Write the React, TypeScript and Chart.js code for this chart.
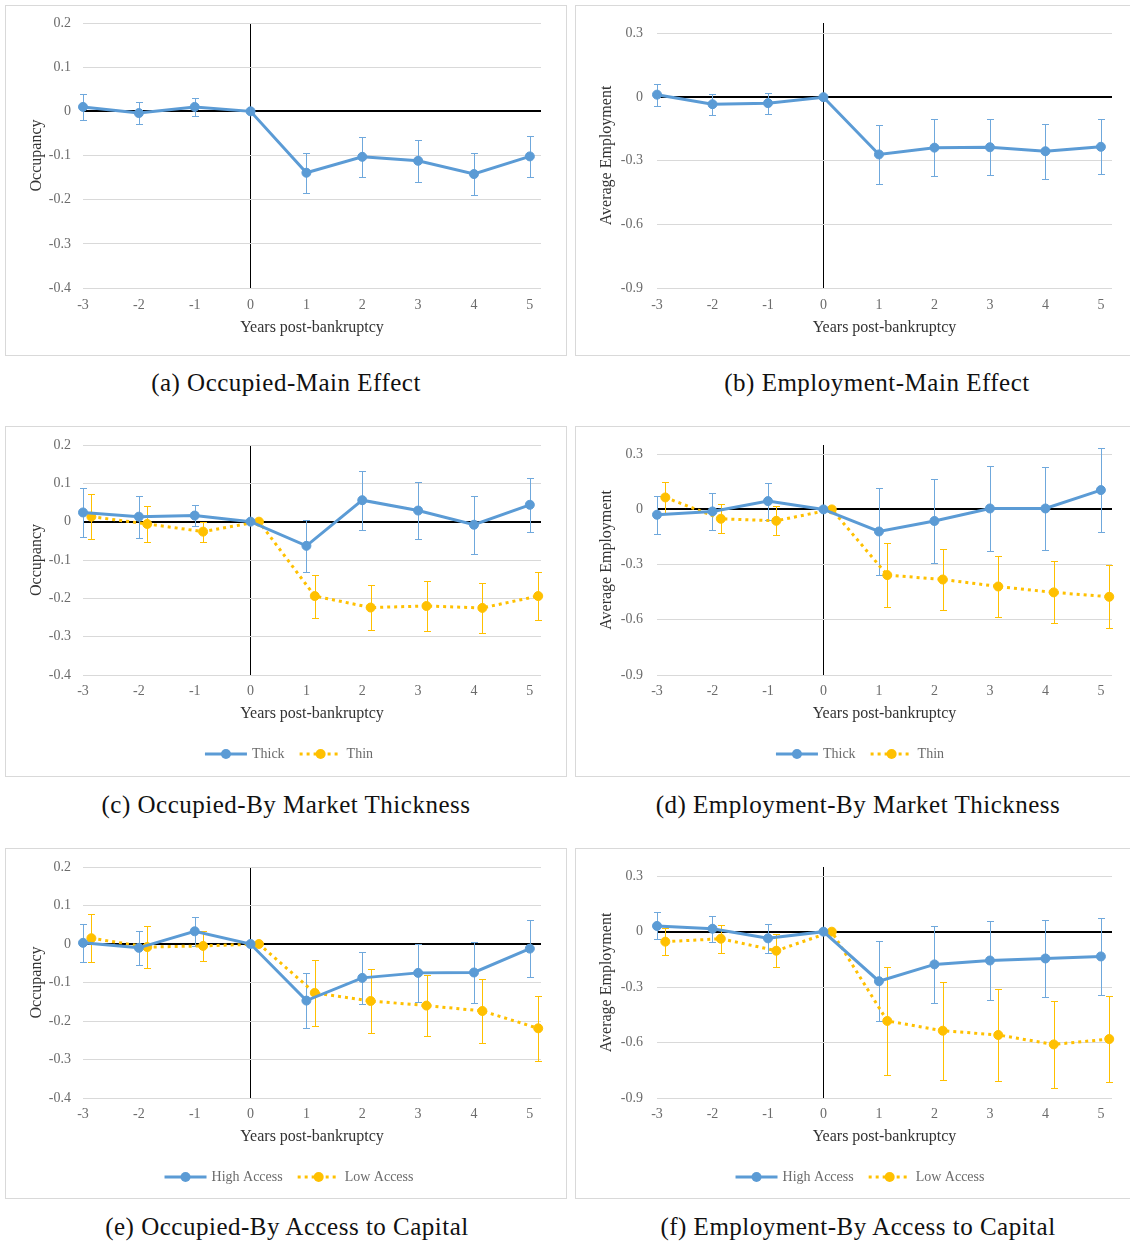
import React, { useEffect, useRef } from "react";
import { Chart, registerables } from "chart.js";

Chart.register(...registerables);

// ---------- data ----------
const years = [-3, -2, -1, 0, 1, 2, 3, 4, 5];
const xTickLabels = ["-3", "-2", "-1", "0", "1", "2", "3", "4", "5"];

const occTicks = [0.2, 0.1, 0, -0.1, -0.2, -0.3, -0.4];
const occTickLabels = ["0.2", "0.1", "0", "-0.1", "-0.2", "-0.3", "-0.4"];
const empTicks = [0.3, 0, -0.3, -0.6, -0.9];
const empTickLabels = ["0.3", "0", "-0.3", "-0.6", "-0.9"];

// (a) Occupied - main effect
const occMain = [0.01, -0.004, 0.01, 0, -0.139, -0.103, -0.112, -0.142, -0.102];
const occMainErr = [0.03, 0.025, 0.02, 0, 0.045, 0.045, 0.047, 0.048, 0.047];

// (b) Employment - main effect
const empMain = [0.012, -0.033, -0.028, 0, -0.27, -0.238, -0.236, -0.255, -0.234];
const empMainErr = [0.052, 0.05, 0.05, 0, 0.14, 0.136, 0.133, 0.13, 0.13];

// (c) Occupied - by market thickness
const occThick = [0.024, 0.013, 0.016, 0, -0.063, 0.056, 0.029, -0.008, 0.044];
const occThickErr = [0.063, 0.055, 0.027, 0, 0.068, 0.077, 0.075, 0.076, 0.071];
const occThin = [0.013, -0.006, -0.026, 0, -0.194, -0.224, -0.22, -0.225, -0.194];
const occThinErr = [0.058, 0.047, 0.026, 0, 0.056, 0.058, 0.066, 0.066, 0.063];

// (d) Employment - by market thickness
const empThick = [-0.029, -0.011, 0.045, 0, -0.12, -0.063, 0.005, 0.005, 0.105];
const empThickErr = [0.102, 0.1, 0.1, 0, 0.235, 0.23, 0.231, 0.228, 0.23];
const empThin = [0.065, -0.051, -0.062, 0, -0.357, -0.381, -0.419, -0.451, -0.475];
const empThinErr = [0.083, 0.078, 0.078, 0, 0.172, 0.168, 0.168, 0.168, 0.171];

// (e) Occupied - by access to capital
const occHigh = [0.003, -0.01, 0.033, 0, -0.147, -0.088, -0.075, -0.074, -0.012];
const occHighErr = [0.049, 0.044, 0.038, 0, 0.072, 0.067, 0.076, 0.08, 0.074];
const occLow = [0.015, -0.008, -0.005, 0, -0.127, -0.148, -0.16, -0.174, -0.219];
const occLowErr = [0.063, 0.055, 0.04, 0, 0.085, 0.083, 0.08, 0.083, 0.085];

// (f) Employment - by access to capital
const empHigh = [0.031, 0.016, -0.036, 0, -0.268, -0.177, -0.156, -0.145, -0.134];
const empHighErr = [0.073, 0.07, 0.078, 0, 0.215, 0.21, 0.212, 0.21, 0.21];
const empLow = [-0.054, -0.038, -0.103, 0, -0.483, -0.536, -0.559, -0.61, -0.581];
const empLowErr = [0.072, 0.075, 0.09, 0, 0.29, 0.266, 0.248, 0.236, 0.233];

// ---------- styles ----------
const FONT = "'Liberation Serif', 'Times New Roman', serif";
const BLUE = "#5B9BD5";
const BLUE_ERR = "#6FA8DC";
const GOLD = "#FFC000";
const TICK_COLOR = "#6b6b6b";
const TITLE_COLOR = "#333333";
const GRID_COLOR = "#d9d9d9";
const SECOND_OFFSET = 0.15;

type SeriesSpec = {
  label: string;
  values: number[];
  errors: number[];
  color: string;
  errColor: string;
  dotted: boolean;
  offset: number;
};

type PanelSpec = {
  key: string;
  boxLeft: number;
  boxTop: number;
  boxW: number;
  boxH: number;
  canvasW: number;
  canvasH: number;
  plotLeft: number;
  plotRight: number;
  plotTop: number;
  plotBottom: number;
  yMin: number;
  yMax: number;
  yTicks: number[];
  yTickLabels: string[];
  yTitle: string;
  yLabelPad: number;
  xLabelPad: number;
  xTitlePad: number;
  legend: boolean;
  legendY: number;
  legendX: number;
  series: SeriesSpec[];
  caption: string;
  captionX: number;
  captionY: number;
};

const blueSeries = (label: string, values: number[], errors: number[]): SeriesSpec => ({
  label, values, errors, color: BLUE, errColor: BLUE_ERR, dotted: false, offset: 0,
});
const goldSeries = (label: string, values: number[], errors: number[]): SeriesSpec => ({
  label, values, errors, color: GOLD, errColor: GOLD, dotted: true, offset: SECOND_OFFSET,
});

const LEFT = { boxLeft: 5, boxW: 562, canvasW: 560, plotLeft: 77, plotRight: 535, yLabelPad: 12, legendX: 283 };
const RIGHT = { boxLeft: 575, boxW: 560, canvasW: 558, plotLeft: 81, plotRight: 536, yLabelPad: 14, legendX: 284 };
const ROW1 = { boxTop: 5, boxH: 351, canvasH: 349, plotTop: 17, plotBottom: 282, xLabelPad: 9, xTitlePad: 18, legend: false, legendY: 0 };
const ROW2 = { boxTop: 426, boxH: 351, canvasH: 349, plotTop: 18, plotBottom: 248, xLabelPad: 8, xTitlePad: 53, legend: true, legendY: 327 };
const ROW3 = { boxTop: 848, boxH: 351, canvasH: 349, plotTop: 18, plotBottom: 249, xLabelPad: 8, xTitlePad: 52, legend: true, legendY: 328 };

const OCC = { yMin: -0.4, yMax: 0.2, yTicks: occTicks, yTickLabels: occTickLabels, yTitle: "Occupancy" };
const EMP = { yMin: -0.9, yMax: 0.35, yTicks: empTicks, yTickLabels: empTickLabels, yTitle: "Average Employment" };

const panels: PanelSpec[] = [
  { key: "a", ...LEFT, ...ROW1, ...OCC, series: [blueSeries("Occupancy", occMain, occMainErr)],
    caption: "(a) Occupied-Main Effect", captionX: 286, captionY: 383 },
  { key: "b", ...RIGHT, ...ROW1, ...EMP, series: [blueSeries("Average Employment", empMain, empMainErr)],
    caption: "(b) Employment-Main Effect", captionX: 877, captionY: 383 },
  { key: "c", ...LEFT, ...ROW2, ...OCC,
    series: [blueSeries("Thick", occThick, occThickErr), goldSeries("Thin", occThin, occThinErr)],
    caption: "(c) Occupied-By Market Thickness", captionX: 286, captionY: 805 },
  { key: "d", ...RIGHT, ...ROW2, ...EMP,
    series: [blueSeries("Thick", empThick, empThickErr), goldSeries("Thin", empThin, empThinErr)],
    caption: "(d) Employment-By Market Thickness", captionX: 858, captionY: 805 },
  { key: "e", ...LEFT, ...ROW3, ...OCC,
    series: [blueSeries("High Access", occHigh, occHighErr), goldSeries("Low Access", occLow, occLowErr)],
    caption: "(e) Occupied-By Access to Capital", captionX: 287, captionY: 1227 },
  { key: "f", ...RIGHT, ...ROW3, ...EMP,
    series: [blueSeries("High Access", empHigh, empHighErr), goldSeries("Low Access", empLow, empLowErr)],
    caption: "(f) Employment-By Access to Capital", captionX: 858, captionY: 1227 },
];

// ---------- plugins ----------
const errorBarPlugin = {
  id: "errorBars",
  beforeDatasetsDraw(chart: any) {
    const ctx = chart.ctx;
    const yScale = chart.scales.y;
    chart.data.datasets.forEach((ds: any, i: number) => {
      const meta = chart.getDatasetMeta(i);
      const errs: number[] = ds.errors || [];
      ctx.save();
      ctx.strokeStyle = ds.errorColor;
      ctx.lineWidth = 1;
      meta.data.forEach((pt: any, j: number) => {
        const e = errs[j];
        if (!e) return;
        const v = ds.data[j].y;
        const x = Math.round(pt.x) + 0.5;
        const y1 = Math.round(yScale.getPixelForValue(v + e)) + 0.5;
        const y2 = Math.round(yScale.getPixelForValue(v - e)) + 0.5;
        ctx.beginPath();
        ctx.moveTo(x, y1);
        ctx.lineTo(x, y2);
        ctx.moveTo(x - 3.5, y1);
        ctx.lineTo(x + 3.5, y1);
        ctx.moveTo(x - 3.5, y2);
        ctx.lineTo(x + 3.5, y2);
        ctx.stroke();
      });
      ctx.restore();
    });
  },
};

const lineLegendPlugin = {
  id: "lineLegend",
  afterDraw(chart: any, _args: any, opts: any) {
    if (!opts || !opts.display) return;
    const ctx = chart.ctx;
    ctx.save();
    ctx.font = `14px ${FONT}`;
    const sampleW = 42;
    const gapText = 5;
    const gapItem = 15;
    const items = chart.data.datasets.map((ds: any) => ({ ds, tw: ctx.measureText(ds.label).width }));
    const total =
      items.reduce((s: number, it: any) => s + sampleW + gapText + it.tw, 0) + gapItem * (items.length - 1);
    let x = opts.centerX - total / 2;
    const y = opts.y;
    for (const it of items) {
      ctx.strokeStyle = it.ds.borderColor;
      ctx.lineWidth = 3;
      ctx.setLineDash(it.ds.borderDash || []);
      ctx.beginPath();
      ctx.moveTo(x, y);
      ctx.lineTo(x + sampleW, y);
      ctx.stroke();
      ctx.setLineDash([]);
      ctx.fillStyle = it.ds.pointBackgroundColor;
      ctx.beginPath();
      ctx.arc(x + sampleW / 2, y, 5, 0, Math.PI * 2);
      ctx.fill();
      ctx.fillStyle = TICK_COLOR;
      ctx.textAlign = "left";
      ctx.textBaseline = "middle";
      ctx.fillText(it.ds.label, x + sampleW + gapText, y);
      x += sampleW + gapText + it.tw + gapItem;
    }
    ctx.restore();
  },
};

// ---------- components ----------
function Panel({ spec }: { spec: PanelSpec }) {
  const ref = useRef<HTMLCanvasElement | null>(null);

  useEffect(() => {
    if (!ref.current) return;
    const p = spec;
    const datasets = p.series.map((s) => ({
      label: s.label,
      data: years.map((yr, i) => ({ x: yr + s.offset, y: s.values[i] })),
      errors: s.errors,
      errorColor: s.errColor,
      borderColor: s.color,
      backgroundColor: s.color,
      borderWidth: 3,
      borderDash: s.dotted ? [3, 4] : [],
      pointRadius: 4.5,
      pointBorderWidth: 1,
      pointBackgroundColor: s.color,
      pointBorderColor: s.color,
      tension: 0,
      clip: false,
    }));

    const chart = new Chart(ref.current, {
      type: "line",
      data: { datasets } as any,
      plugins: [errorBarPlugin, lineLegendPlugin] as any,
      options: {
        responsive: false,
        animation: false,
        events: [],
        devicePixelRatio: 1,
        layout: {
          padding: { left: 0, top: p.plotTop, right: p.canvasW - p.plotRight, bottom: 0 },
        },
        plugins: {
          legend: { display: false },
          tooltip: { enabled: false },
          lineLegend: { display: p.legend, centerX: p.legendX, y: p.legendY },
        } as any,
        scales: {
          x: {
            type: "linear",
            min: -3,
            max: 5.2,
            afterBuildTicks: (ax: any) => {
              ax.ticks = years.map((v) => ({ value: v }));
            },
            afterFit: (ax: any) => {
              ax.height = p.canvasH - p.plotBottom;
              ax.paddingLeft = 0;
              ax.paddingRight = 0;
            },
            ticks: {
              autoSkip: false,
              maxRotation: 0,
              padding: p.xLabelPad,
              color: TICK_COLOR,
              font: { family: FONT, size: 14 },
              callback: (v: any) => {
                const idx = years.indexOf(Number(v));
                return idx >= 0 ? xTickLabels[idx] : "";
              },
            },
            grid: {
              drawTicks: false,
              lineWidth: 1,
              color: (c: any) => (c.tick && c.tick.value === 0 ? "#000000" : "rgba(0,0,0,0)"),
            },
            border: { display: false },
            title: {
              display: true,
              text: "Years post-bankruptcy",
              color: TITLE_COLOR,
              font: { family: FONT, size: 16 },
              padding: { top: 0, bottom: p.xTitlePad },
            },
          },
          y: {
            type: "linear",
            min: p.yMin,
            max: p.yMax,
            afterBuildTicks: (ax: any) => {
              ax.ticks = p.yTicks.map((v) => ({ value: v }));
            },
            afterFit: (ax: any) => {
              ax.width = p.plotLeft;
              ax.paddingTop = 0;
              ax.paddingBottom = 0;
            },
            ticks: {
              padding: p.yLabelPad,
              color: TICK_COLOR,
              font: { family: FONT, size: 14 },
              callback: (v: any) => {
                const idx = p.yTicks.indexOf(Number(v));
                return idx >= 0 ? p.yTickLabels[idx] : "";
              },
            },
            grid: {
              drawTicks: false,
              color: (c: any) => (c.tick && c.tick.value === 0 ? "#000000" : GRID_COLOR),
              lineWidth: (c: any) => (c.tick && c.tick.value === 0 ? 2 : 1),
            },
            border: { display: false },
            title: {
              display: true,
              text: p.yTitle,
              color: TITLE_COLOR,
              font: { family: FONT, size: 16 },
              padding: { top: 21, bottom: 0 },
            },
          },
        },
      } as any,
    });
    return () => chart.destroy();
  }, [spec]);

  return (
    <>
      <div
        style={{
          position: "absolute",
          left: spec.boxLeft,
          top: spec.boxTop,
          width: spec.boxW,
          height: spec.boxH,
          border: "1px solid #d9d9d9",
          boxSizing: "border-box",
          background: "#ffffff",
        }}
      />
      <canvas
        ref={ref}
        width={spec.canvasW}
        height={spec.canvasH}
        style={{
          position: "absolute",
          left: spec.boxLeft + 1,
          top: spec.boxTop + 1,
          width: spec.canvasW,
          height: spec.canvasH,
        }}
      />
      <div
        style={{
          position: "absolute",
          left: spec.captionX - 300,
          top: spec.captionY - 15,
          width: 600,
          height: 30,
          lineHeight: "30px",
          textAlign: "center",
          fontFamily: FONT,
          fontSize: 25,
          letterSpacing: "0.5px",
          color: "#111111",
          whiteSpace: "nowrap",
        }}
      >
        {spec.caption}
      </div>
    </>
  );
}

export default function App() {
  return (
    <div
      style={{
        position: "absolute",
        left: 0,
        top: 0,
        width: 1130,
        height: 1243,
        overflow: "hidden",
        background: "#ffffff",
      }}
    >
      {panels.map((p) => (
        <Panel key={p.key} spec={p} />
      ))}
    </div>
  );
}
